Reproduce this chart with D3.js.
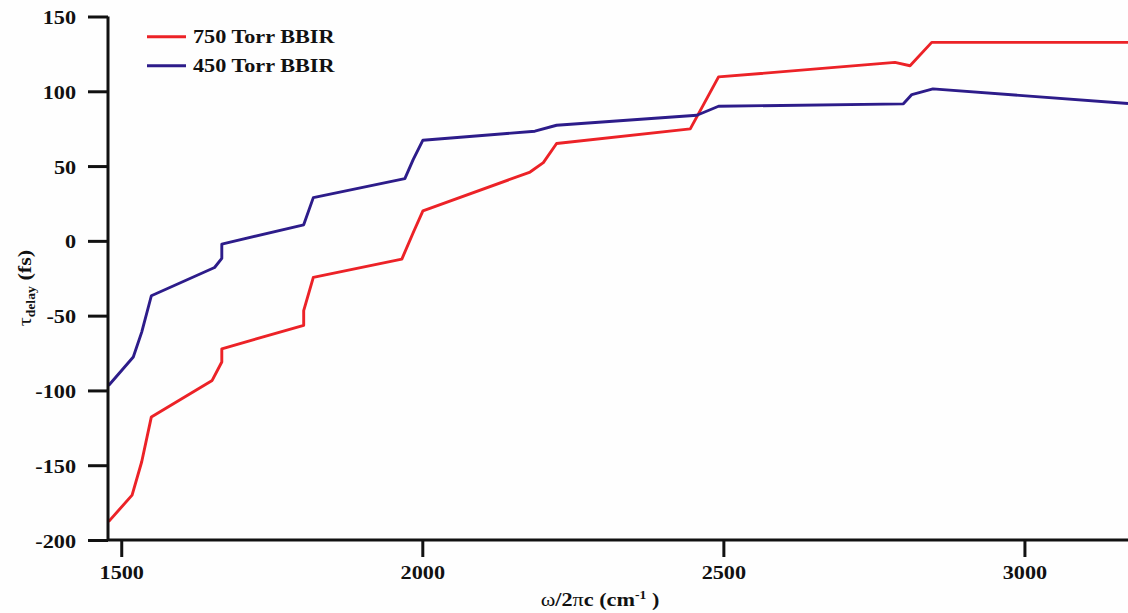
<!DOCTYPE html>
<html>
<head>
<meta charset="utf-8">
<script src="https://cdn.jsdelivr.net/npm/d3@7"></script>
<style>
  html, body { margin: 0; padding: 0; background: #fefefe; }
  svg { display: block; }
  text { font-family: "Liberation Serif", "Times New Roman", serif; font-weight: bold; fill: #111; }
</style>
</head>
<body>
<svg id="chart" width="1128" height="613"></svg>
<script>
// Group delay versus wavenumber for two BBIR pressures
const series750Wavenumber = [1479, 1518, 1534, 1550, 1651, 1667, 1667, 1803, 1803, 1819, 1966, 1985, 2001, 2179, 2201, 2223, 2445, 2467, 2492, 2785, 2810, 2846, 3172];
const series750Delay      = [-187.7, -170, -147.7, -117.7, -93.3, -81, -72.2, -56.5, -46.7, -24.4, -12.2, 5.6, 20, 46, 52.3, 65.1, 74.9, 91.1, 109.6, 119.3, 117.1, 132.7, 132.7];

const series450Wavenumber = [1479, 1520, 1534, 1550, 1655, 1667, 1667, 1803, 1819, 1971, 1985, 2001, 2187, 2223, 2456, 2492, 2799, 2813, 2848, 3172];
const series450Delay      = [-96.7, -77.7, -61, -36.7, -17.8, -11.7, -2.2, 10.7, 28.9, 41.6, 54.5, 67.3, 73.3, 77.3, 84, 90, 91.6, 97.8, 101.6, 91.8];

const seriesNames = ["750 Torr BBIR", "450 Torr BBIR"];
const seriesColors = ["#ec2227", "#2d1c8a"];

const xTicks = [1500, 2000, 2500, 3000];
const yTicks = [150, 100, 50, 0, -50, -100, -150, -200];

const svg = d3.select("#chart");
const textStretch = "scale(1.14,1)";

const x = d3.scaleLinear().domain([1478, 3172]).range([108, 1128]);
const y = d3.scaleLinear().domain([-200, 150]).range([540, 16.5]);

const toPoints = (xs, ys) => xs.map((v, i) => [v, ys[i]]);
const seriesData = [
  toPoints(series750Wavenumber, series750Delay),
  toPoints(series450Wavenumber, series450Delay)
];

const line = d3.line().x(d => x(d[0])).y(d => y(d[1]));

// curves
svg.append("g").selectAll("path")
  .data(seriesData)
  .join("path")
  .attr("d", line)
  .attr("fill", "none")
  .attr("stroke", (d, i) => seriesColors[i])
  .attr("stroke-width", 2.9)
  .attr("stroke-linejoin", "round");

// axes (plain hyphen for negative labels)
const plain = d => String(d);
const yAxis = svg.append("g")
  .attr("transform", `translate(${x.range()[0]},0)`)
  .call(d3.axisLeft(y).tickValues(yTicks).tickSize(20).tickPadding(8).tickFormat(plain));

const xAxis = svg.append("g")
  .attr("transform", `translate(0,${y.range()[0]})`)
  .call(d3.axisBottom(x).tickValues(xTicks).tickSize(17).tickPadding(8).tickFormat(plain));

[yAxis, xAxis].forEach(g => {
  g.select(".domain").attr("stroke", "#111").attr("stroke-width", 3);
  g.selectAll(".tick line").attr("stroke", "#111").attr("stroke-width", 3);
  g.selectAll(".tick text")
    .style("font-size", "19.5px")
    .style("font-family", "'Liberation Serif', 'Times New Roman', serif")
    .style("font-weight", "bold")
    .attr("fill", "#111");
});
yAxis.select(".domain").attr("d", `M0,${y.range()[1]}V${y.range()[0]}`);
xAxis.select(".domain").attr("d", `M${x.range()[0]},0H${x.range()[1]}`);
yAxis.selectAll(".tick text").attr("transform", textStretch).attr("dy", "0.36em");
xAxis.selectAll(".tick text").attr("transform", textStretch).attr("dy", "0.72em");

// legend
const legend = svg.append("g");
seriesNames.forEach((name, i) => {
  const cy = 36.7 + i * 29;
  legend.append("line")
    .attr("x1", 147).attr("x2", 186).attr("y1", cy).attr("y2", cy)
    .attr("stroke", seriesColors[i]).attr("stroke-width", 2.9);
  legend.append("text")
    .attr("transform", `translate(193,${cy + 6.6}) ${textStretch}`)
    .style("font-size", "19.5px")
    .text(name);
});

// x axis title
const xTitle = svg.append("text")
  .attr("transform", `translate(600,606) ${textStretch}`)
  .attr("text-anchor", "middle")
  .style("font-size", "19.5px");
xTitle.append("tspan").style("font-weight", "normal").text("ω");
xTitle.append("tspan").text("/2");
xTitle.append("tspan").style("font-weight", "normal").text("π");
xTitle.append("tspan").text("c (cm");
xTitle.append("tspan").attr("dy", -7).style("font-size", "12px").text("-1");
xTitle.append("tspan").attr("dy", 7).text(" )");

// y axis title
const yTitle = svg.append("text")
  .attr("transform", `translate(31,288) rotate(-90) ${textStretch}`)
  .attr("text-anchor", "middle")
  .style("font-size", "19.5px");
yTitle.append("tspan").style("font-weight", "normal").text("τ");
yTitle.append("tspan").attr("dy", 4).style("font-size", "12px").text("delay");
yTitle.append("tspan").attr("dy", -4).text(" (fs)");
</script>
</body>
</html>
